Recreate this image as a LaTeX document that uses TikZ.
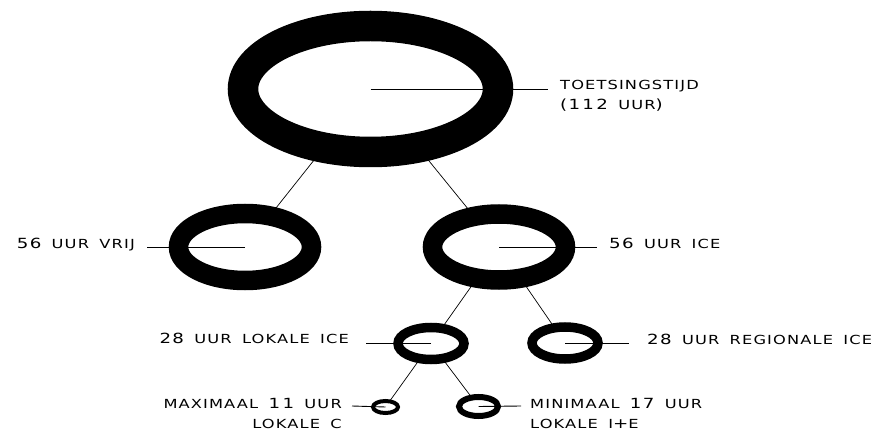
\documentclass[tikz,border=0pt]{standalone}
\usepackage{fontspec}
\newfontfamily\labfont[LetterSpace=9,WordSpace=1.65,FakeStretch=1.3]{DejaVu Sans}
\newcommand{\dg}[1]{{\fontsize{14}{16}\selectfont #1}}
\usetikzlibrary{shapes.geometric,backgrounds}
\tikzset{
  ring/.style={ellipse, draw=black, fill=white, inner sep=0pt, outer sep=0pt},
  lab/.style={inner sep=0pt, font=\labfont\fontsize{12.5}{14}\selectfont},
  lead/.style={line width=0.9pt},
  conn/.style={line width=0.7pt},
}
\begin{document}
\begin{tikzpicture}[x=1pt,y=-1pt]
\useasboundingbox (0,0) rectangle (888,430);
% rings
\node[ring, line width=30.5pt, minimum width=255pt, minimum height=126pt] (top) at (370.5,89) {};
\node[ring, line width=19.5pt, minimum width=133pt, minimum height=67pt] (vrij) at (245,247) {};
\node[ring, line width=19.5pt, minimum width=133pt, minimum height=66pt] (ice) at (499,247) {};
\node[ring, line width=9.5pt, minimum width=66pt, minimum height=32pt] (lok) at (431,343.5) {};
\node[ring, line width=9.5pt, minimum width=66pt, minimum height=32pt] (reg) at (565,343) {};
\node[ring, line width=4pt, minimum width=25pt, minimum height=12pt] (ringC) at (385.5,407) {};
\node[ring, line width=6pt, minimum width=39pt, minimum height=19pt] (ringIE) at (478.5,406.5) {};
% connectors behind rings
\begin{scope}[on background layer]
  \draw[conn] (top.center) -- (vrij.center);
  \draw[conn] (top.center) -- (ice.center);
  \draw[conn] (ice.center) -- (lok.center);
  \draw[conn] (ice.center) -- (reg.center);
  \draw[conn] (lok.center) -- (ringC.center);
  \draw[conn] (lok.center) -- (ringIE.center);
\end{scope}
% leader lines
\coordinate (eTop) at (548,89);
\coordinate (eVrij) at (147,247);
\coordinate (eIce) at (597,247);
\coordinate (eLok) at (366,343.5);
\coordinate (eReg) at (629,343);
\coordinate (eC) at (352,406);
\coordinate (eIE) at (521,406);
\draw[lead] (top.center) -- (eTop);
\draw[lead] (vrij.center) -- (eVrij);
\draw[lead] (ice.center) -- (eIce);
\draw[lead] (lok.center) -- (eLok);
\draw[lead] (reg.center) -- (eReg);
\draw[lead] (ringC.center) -- (eC);
\draw[lead] (ringIE.center) -- (eIE);
% labels
\node[lab, anchor=base west] (tTop1) at (560,90) {TOETSINGSTIJD};
\node[lab, anchor=base west] (tTop2) at (560,110) {\dg{(1\,1\,2} UUR\dg{)}};
\node[lab, anchor=base east] (tVrij) at (135,248) {\dg{56} UUR VRIJ};
\node[lab, anchor=base west] (tIce) at (609,248) {\dg{56} UUR ICE};
\node[lab, anchor=base east] (tLok) at (349,343) {\dg{28} UUR LOKALE ICE};
\node[lab, anchor=base west] (tReg) at (647,344) {\dg{28} UUR REGIONALE ICE};
\node[lab, anchor=base east] (tC1) at (342,408) {MAXIMAAL \dg{1\,1} UUR};
\node[lab, anchor=base east] (tC2) at (342,428) {LOKALE C};
\node[lab, anchor=base west] (tIE1) at (530,408) {MINIMAAL \dg{17} UUR};
\node[lab, anchor=base west] (tIE2) at (530,428) {LOKALE I\dg{+}E};
\end{tikzpicture}
\end{document}
